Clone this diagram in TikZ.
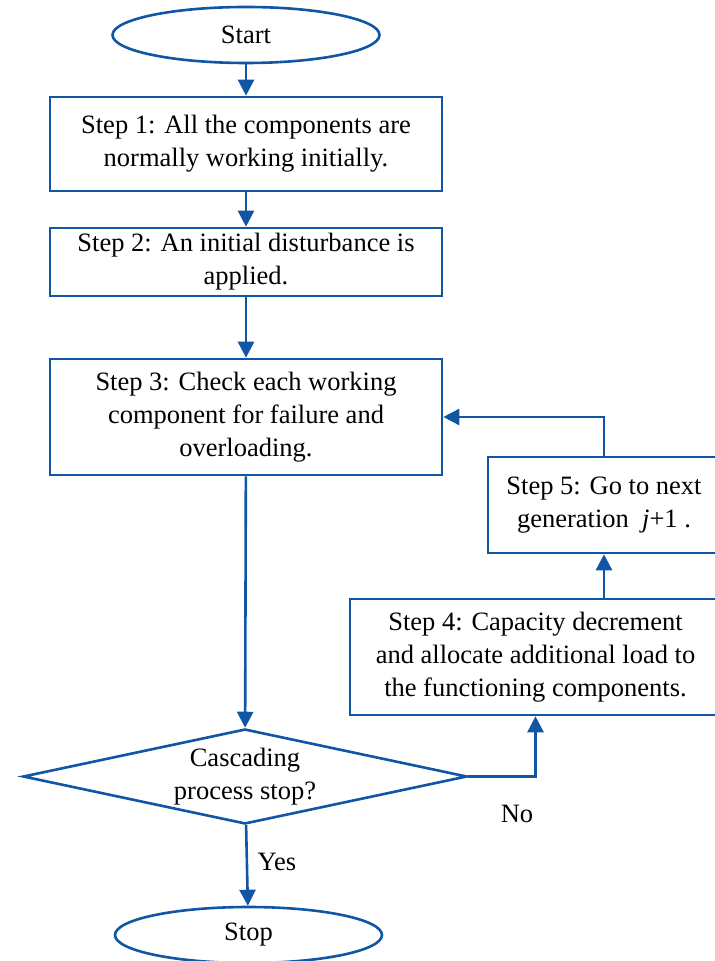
\documentclass[tikz,border=0pt]{standalone}
\usepackage{fontspec}
\setmainfont{Liberation Serif}
\usetikzlibrary{shapes.geometric,arrows.meta}
\definecolor{flowblue}{RGB}{16,86,164}
\begin{document}
\begin{tikzpicture}[x=0.5pt,y=-0.5pt,
  every node/.style={font=\fontsize{13.25}{16.5}\selectfont},
  box/.style={draw=flowblue,line width=1.3pt,rectangle,align=center,inner sep=0pt},
  term/.style={draw=flowblue,line width=1.3pt,ellipse,minimum width=133.5pt,minimum height=28pt,inner sep=0pt},
  flow/.style={draw=flowblue,line width=1.3pt,-{Triangle[width=8pt,length=8pt]}}]
\useasboundingbox (0,0) rectangle (715,961);
\node[term] (start) at (246,35) {Start};
\node[box,minimum width=196pt,minimum height=47pt] (s1) at (246,144) {Step 1: All the components are\\normally working initially.};
\node[box,minimum width=196pt,minimum height=34pt] (s2) at (246,262) {Step 2: An initial disturbance is\\applied.};
\node[box,minimum width=196pt,minimum height=58pt] (s3) at (246,417) {Step 3: Check each working\\component for failure and\\overloading.};
\node[box,minimum width=116pt,minimum height=48pt] (s5) at (604,505) {Step 5: Go to next\\generation\ \ \textit{j}+1 .};
\node[box,minimum width=185.5pt,minimum height=58pt] (s4) at (535.5,657) {Step 4: Capacity decrement\\and allocate additional load to\\the functioning components.};
\node[draw=flowblue,line width=1.3pt,diamond,aspect=4.67,inner sep=0pt,align=center,minimum width=222pt,minimum height=47.5pt] (dec) at (245,776.5) {Cascading\\process stop?};
\node[term] (stop) at (248.5,935) {Stop};
\node (yes) at (277,862) {Yes};
\node (no) at (517,814) {No};
% connectors
\draw[flow] (start) -- (s1);
\draw[flow] (s1) -- (s2);
\draw[flow] (s2) -- (s3);
\draw[flow] (s3) -- (dec);
\draw[flow] (dec) -- (stop);
\draw[flow] (dec.east) -| (s4.south);
\draw[flow] (s5.south |- s4.north) -- (s5.south);
\draw[flow] (s5.north) |- (s3.east);
\end{tikzpicture}
\end{document}
